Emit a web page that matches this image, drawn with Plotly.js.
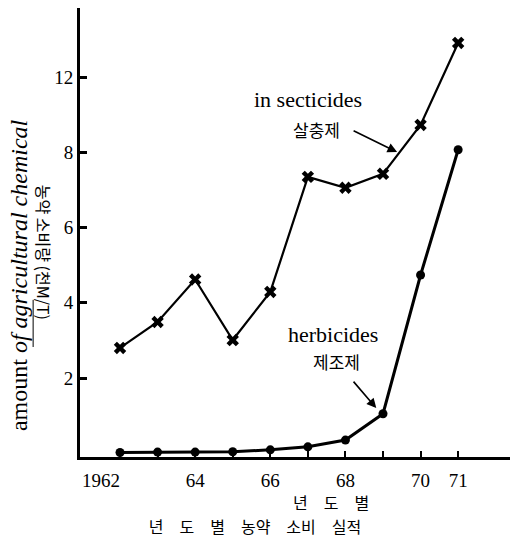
<!DOCTYPE html>
<html>
<head>
<meta charset="utf-8">
<script src="https://cdn.plot.ly/plotly-3.0.1.min.js"></script>
<style>html,body{margin:0;padding:0;background:#fff;}</style>
</head>
<body>
<div id="chart" style="width:510px;height:539px;"></div>
<script>
// Data (thousand M/T, linear drawn scale)
const years = [1962, 1963, 1964, 1965, 1966, 1967, 1968, 1969, 1970, 1971];
const insecticides = [2.80, 3.49, 4.62, 3.01, 4.29, 7.35, 7.06, 7.43, 8.73, 10.91];
const herbicides = [0.02, 0.03, 0.03, 0.04, 0.09, 0.17, 0.35, 1.05, 4.74, 8.07];
const xTickLabels = ['1962\u2007\u2007\u2007\u2007', '', '64', '', '66', '', '68', '', '70', '71'];
const yTickValues = [2, 4, 6, 8, 10];
const yTickLabels = ['2', '4', '6', '8', '12'];

const SERIF = "'Liberation Serif', 'DejaVu Serif', serif";
const KR = "'Noto Sans CJK KR', sans-serif";

const traces = [
  {
    x: years, y: insecticides, type: 'scatter', mode: 'lines+markers',
    name: 'in secticides',
    line: {color: '#000', width: 2.2},
    marker: {symbol: 'x', size: 11, color: '#000'}
  },
  {
    x: years, y: herbicides, type: 'scatter', mode: 'lines+markers',
    name: 'herbicides',
    line: {color: '#000', width: 3},
    marker: {symbol: 'circle', size: 9, color: '#000'}
  }
];

const layout = {
  width: 510, height: 539,
  margin: {l: 80, r: 0, t: 8, b: 82},
  paper_bgcolor: '#fff', plot_bgcolor: '#fff',
  showlegend: false,
  font: {family: SERIF, color: '#000', size: 18},
  title: {
    text: '년\u2003도\u2003별\u2003농약\u2003소비\u2003실적',
    font: {family: KR, size: 16, color: '#000'},
    x: 0.5, y: 0.022, xanchor: 'center', yanchor: 'middle'
  },
  xaxis: {
    range: [1960.935, 1972.38],
    tickmode: 'array', tickvals: years, ticktext: xTickLabels,
    ticks: 'inside', ticklen: 6, tickwidth: 2, tickcolor: '#000',
    showline: true, linecolor: '#000', linewidth: 3,
    showgrid: false, zeroline: false,
    tickfont: {family: SERIF, size: 19, color: '#000'},
    ticklabelstandoff: 4
  },
  yaxis: {
    range: [-0.1, 11.84],
    tickmode: 'array', tickvals: yTickValues, ticktext: yTickLabels,
    ticks: 'inside', ticklen: 7, tickwidth: 3, tickcolor: '#000',
    showline: true, linecolor: '#000', linewidth: 3,
    showgrid: false, zeroline: false,
    tickfont: {family: SERIF, size: 19, color: '#000'}
  },
  annotations: [
    {xref: 'x', yref: 'y', x: 1967.01, y: 9.40, text: 'in secticides', showarrow: false,
     font: {family: SERIF, size: 22, color: '#000'}, xanchor: 'center', yanchor: 'middle'},
    {xref: 'x', yref: 'y', x: 1967.22, y: 8.60, text: '살충제', showarrow: false,
     font: {family: KR, size: 17, color: '#000'}, xanchor: 'center', yanchor: 'middle'},
    {xref: 'x', yref: 'y', x: 1969.375, y: 8.01, ax: -45, ay: -22, text: '', showarrow: true,
     arrowhead: 2, arrowsize: 1.2, arrowwidth: 1.6, arrowcolor: '#000'},
    {xref: 'x', yref: 'y', x: 1967.67, y: 3.15, text: 'herbicides', showarrow: false,
     font: {family: SERIF, size: 22, color: '#000'}, xanchor: 'center', yanchor: 'middle'},
    {xref: 'x', yref: 'y', x: 1967.75, y: 2.43, text: '제조제', showarrow: false,
     font: {family: KR, size: 17, color: '#000'}, xanchor: 'center', yanchor: 'middle'},
    {xref: 'x', yref: 'y', x: 1968.82, y: 1.20, ax: -24, ay: -28, text: '', showarrow: true,
     arrowhead: 2, arrowsize: 1.2, arrowwidth: 1.6, arrowcolor: '#000'},
    {xref: 'paper', yref: 'paper', x: -0.142, y: 0.405, textangle: -90,
     text: 'amount <i>of agricultural chemical</i>', showarrow: false,
     font: {family: SERIF, size: 24, color: '#000'}, xanchor: 'center', yanchor: 'middle'},
    {xref: 'paper', yref: 'paper', x: -0.084, y: 0.455, textangle: 90,
     text: '농약 소비량 (천M/T)', showarrow: false,
     font: {family: KR, size: 16, color: '#000'}, xanchor: 'center', yanchor: 'middle'},
    {xref: 'paper', yref: 'paper', x: 0.584, y: -0.1,
     text: '년\u2003도\u2003별', showarrow: false,
     font: {family: KR, size: 16, color: '#000'}, xanchor: 'center', yanchor: 'middle'}
  ],
  shapes: [
    {type: 'line', xref: 'paper', yref: 'paper', x0: -0.109, x1: -0.109, y0: 0.245, y1: 0.35,
     line: {color: '#000', width: 1}}
  ]
};

Plotly.newPlot('chart', traces, layout, {displayModeBar: false, staticPlot: true});
</script>
</body>
</html>
